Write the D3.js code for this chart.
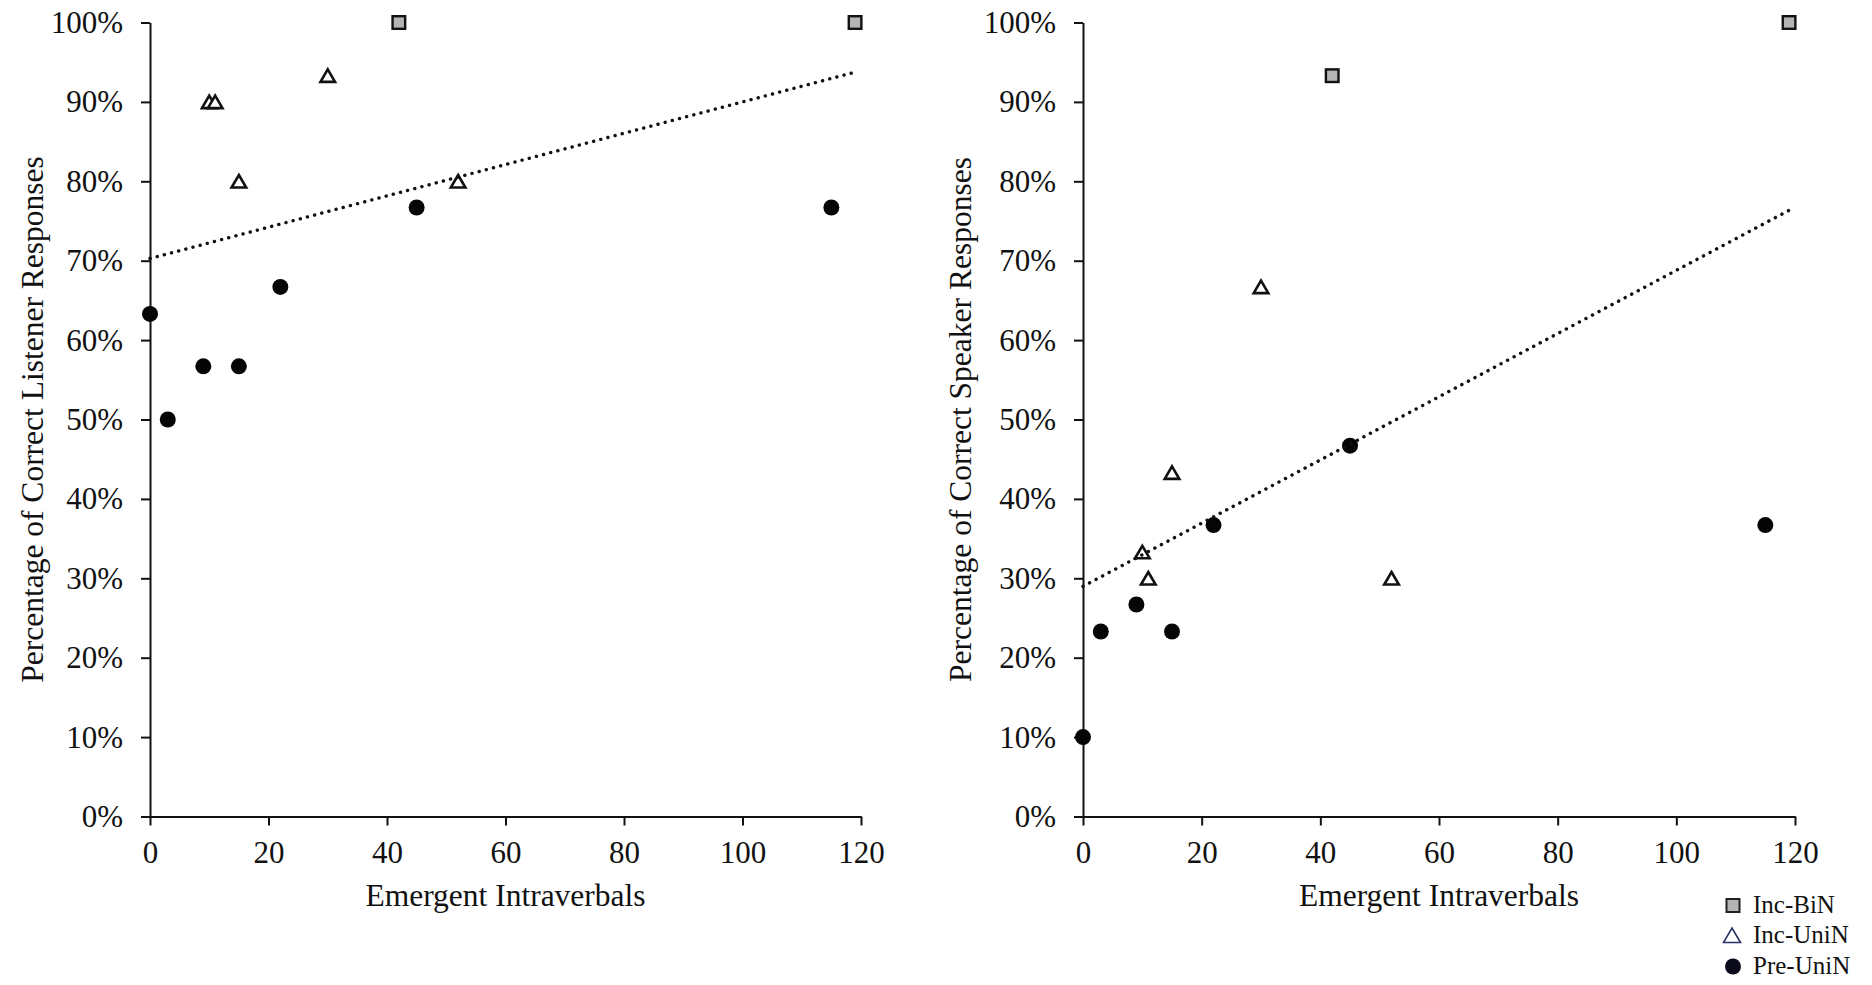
<!DOCTYPE html>
<html>
<head>
<meta charset="utf-8">
<script src="https://cdn.jsdelivr.net/npm/d3@7"></script>
<style>
  body { margin: 0; background: #fff; }
  svg text { font-family: "Liberation Serif", "Times New Roman", serif; fill: #111; }
</style>
</head>
<body>
<div id="canvas"></div>
<script>
// emergent intraverbals per participant, grouped by condition
const xIncBiN = [42, 119];
const xIncUniN = [10, 11, 15, 30, 52];
const xPreUniN = [0, 3, 9, 15, 22, 45, 115];

// percentage of correct listener responses
const listenerIncBiN = [100, 100];
const listenerIncUniN = [90, 90, 80, 93.3, 80];
const listenerPreUniN = [63.3, 50, 56.7, 56.7, 66.7, 76.7, 76.7];

// percentage of correct speaker responses
const speakerIncBiN = [93.3, 100];
const speakerIncUniN = [33.3, 30, 43.3, 66.7, 30];
const speakerPreUniN = [10, 23.3, 26.7, 23.3, 36.7, 46.7, 36.7];

const xTicks = [0, 20, 40, 60, 80, 100, 120];
const yTicks = [0, 10, 20, 30, 40, 50, 60, 70, 80, 90, 100];
const legendLabels = ["Inc-BiN", "Inc-UniN", "Pre-UniN"];

const W = 1872, H = 985;
const svg = d3.select("#canvas").append("svg")
    .attr("width", W)
    .attr("height", H);

const yTop = 22.5, yBottom = 816.5;

function pts(xs, ys) { return xs.map((x, i) => ({ x: x, y: ys[i] })); }

// least squares line, same as the spreadsheet trendline
function fit(data) {
    const mx = d3.mean(data, d => d.x), my = d3.mean(data, d => d.y);
    const sxy = d3.sum(data, d => (d.x - mx) * (d.y - my));
    const sxx = d3.sum(data, d => (d.x - mx) * (d.x - mx));
    const b = sxy / sxx;
    return { b: b, a: my - b * mx };
}

const triPath = "M0,-6.3L7.3,6.2L-7.3,6.2Z";

function drawPanel(left, right, titleX, title, biN, uniN, preUniN) {
    const x = d3.scaleLinear().domain([0, 120]).range([left, right]);
    const y = d3.scaleLinear().domain([0, 100]).range([yBottom, yTop]);
    const g = svg.append("g");

    // axes
    const ax = g.append("g")
        .attr("transform", `translate(0,${yBottom})`)
        .call(d3.axisBottom(x).tickValues(xTicks).tickSize(9).tickSizeOuter(0).tickPadding(15));
    const ay = g.append("g")
        .attr("transform", `translate(${left},0)`)
        .call(d3.axisLeft(y).tickValues(yTicks).tickFormat(d => d + "%").tickSize(9).tickSizeOuter(0).tickPadding(18));
    [ax, ay].forEach(a => {
        a.selectAll("path, line").attr("stroke", "#111").attr("stroke-width", 2);
        a.selectAll("text").style("font-size", "31px").attr("fill", "#111");
    });

    // axis titles
    g.append("text")
        .attr("x", (left + right) / 2)
        .attr("y", 906)
        .attr("text-anchor", "middle")
        .style("font-size", "31.5px")
        .text("Emergent Intraverbals");
    g.append("text")
        .attr("transform", `translate(${titleX},${(yTop + yBottom) / 2}) rotate(-90)`)
        .attr("text-anchor", "middle")
        .style("font-size", "31.5px")
        .text(title);

    // markers
    g.append("g").selectAll("rect")
        .data(biN)
        .enter()
        .append("rect")
        .attr("x", d => x(d.x) - 6.3)
        .attr("y", d => y(d.y) - 6.3)
        .attr("width", 12.6)
        .attr("height", 12.6)
        .attr("fill", "#b4b4b4")
        .attr("stroke", "#111")
        .attr("stroke-width", 2.4);

    g.append("g").selectAll("path")
        .data(uniN)
        .enter()
        .append("path")
        .attr("d", triPath)
        .attr("transform", d => `translate(${x(d.x)},${y(d.y)})`)
        .attr("fill", "#fff")
        .attr("stroke", "#111")
        .attr("stroke-width", 2.6)
        .attr("stroke-linejoin", "miter");

    g.append("g").selectAll("circle")
        .data(preUniN)
        .enter()
        .append("circle")
        .attr("cx", d => x(d.x))
        .attr("cy", d => y(d.y))
        .attr("r", 8)
        .attr("fill", "#050505");

    // dotted linear trendline
    const all = biN.concat(uniN, preUniN);
    const f = fit(all);
    const ext = d3.extent(all, d => d.x);
    g.append("line")
        .attr("x1", x(ext[0]))
        .attr("y1", y(f.a + f.b * ext[0]))
        .attr("x2", x(ext[1]))
        .attr("y2", y(f.a + f.b * ext[1]))
        .attr("stroke", "#111")
        .attr("stroke-width", 3.4)
        .attr("stroke-linecap", "round")
        .attr("stroke-dasharray", "0.1 7.3");
}

drawPanel(150, 861, 43, "Percentage of Correct Listener Responses",
    pts(xIncBiN, listenerIncBiN), pts(xIncUniN, listenerIncUniN), pts(xPreUniN, listenerPreUniN));
drawPanel(1083, 1795, 971, "Percentage of Correct Speaker Responses",
    pts(xIncBiN, speakerIncBiN), pts(xIncUniN, speakerIncUniN), pts(xPreUniN, speakerPreUniN));

// legend
const legend = svg.append("g").attr("transform", "translate(1733,0)");
const rows = [905.5, 935.5, 966.5];
legend.append("rect")
    .attr("x", -6.5).attr("y", rows[0] - 6.5)
    .attr("width", 13).attr("height", 13)
    .attr("fill", "#b4b4b4").attr("stroke", "#222").attr("stroke-width", 2);
legend.append("path")
    .attr("d", "M0,-7.5L8.5,7L-8.5,7Z")
    .attr("transform", `translate(-1,${rows[1]})`)
    .attr("fill", "#fff").attr("stroke", "#2b3366").attr("stroke-width", 1.6);
legend.append("circle")
    .attr("cx", 0).attr("cy", rows[2]).attr("r", 8)
    .attr("fill", "#0a0a1c");
legend.selectAll("text.lab")
    .data(legendLabels)
    .enter()
    .append("text")
    .attr("class", "lab")
    .attr("x", 20)
    .attr("y", (d, i) => rows[i] + 7.5)
    .style("font-size", "25px")
    .text(d => d);
</script>
</body>
</html>
